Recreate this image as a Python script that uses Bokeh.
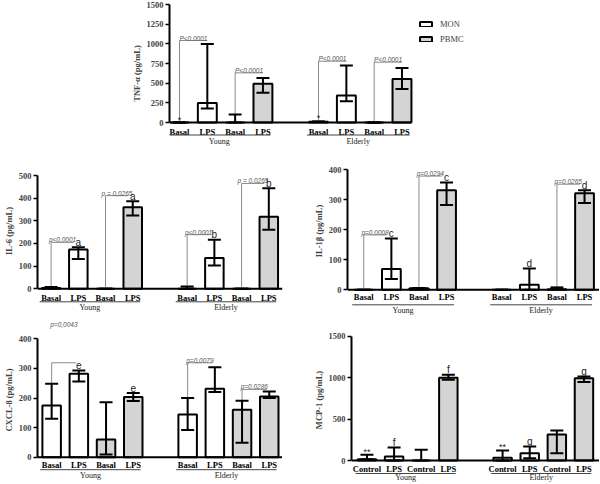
from bokeh.plotting import figure
from bokeh.models import (Range1d, FixedTicker, Whisker, TeeHead, ColumnDataSource,
                          Legend, LegendItem, Spacer)
from bokeh.layouts import column, row
from bokeh.core.properties import value
from bokeh.embed import file_html
from bokeh.resources import INLINE

# ---------------- data ----------------
GROUPS = ["Young", "Elderly"]
CELLS = ["MON", "MON", "PBMC", "PBMC"]
TREAT_BASAL = ["Basal", "LPS", "Basal", "LPS"]
TREAT_CONTROL = ["Control", "LPS", "Control", "LPS"]

# TNF-alpha
tnf_mean = [0, 249, 0, 491, 10, 343, 0, 554]
tnf_low = [0, 178, 0, 377, 10, 271, 0, 427]
tnf_high = [0, 998, 101, 567, 14, 724, 0, 694]
tnf_ticks = [0, 250, 500, 750, 1000, 1250, 1500]
tnf_pvals = [(0, 1, 1042, "P<0.0001", None), (2, 3, 631, "P<0.0001", None),
             (4, 5, 779, "P<0.0001", None), (6, 7, 767, "P<0.0001", None)]
tnf_letters = []
tnf_stars = [(0, "*"), (4, "*")]

# IL-6
il6_mean = [4, 173, 0, 360, 0, 136, 0, 318]
il6_low = [4, 132, 0, 323, 0, 103, 0, 261]
il6_high = [8, 183, 0, 386, 10, 217, 0, 444]
il6_ticks = [0, 100, 200, 300, 400, 500]
il6_pvals = [(0, 1, 205, "p<0,0001", None), (2, 3, 411, "p = 0,0265", None),
             (4, 5, 239, "p<0,0001", None), (6, 7, 465, "p = 0,0265", None)]
il6_letters = [(1, "a"), (3, "a"), (5, "b"), (7, "b")]
il6_stars = []

# IL-1beta
il1b_mean = [0, 69, 5, 332, 0, 17, 2, 322]
il1b_low = [0, 36, 5, 283, 0, 0, 2, 289]
il1b_high = [0, 171, 6, 358, 0, 71, 8, 332]
il1b_ticks = [0, 100, 200, 300, 400]
il1b_pvals = [(0, 1, 183, "p=0,0008", None), (2, 3, 379, "p=0,0294", None),
              (6, 7, 352, "p=0,0265", None)]
il1b_letters = [(1, "c"), (3, "c"), (5, "d"), (7, "d")]
il1b_stars = []

# CXCL-8
cxcl8_mean = [175, 282, 60, 203, 144, 231, 160, 205]
cxcl8_low = [130, 256, 9, 190, 92, 220, 49, 200]
cxcl8_high = [248, 293, 186, 217, 200, 304, 191, 222]
cxcl8_ticks = [0, 100, 200, 300, 400]
cxcl8_pvals = [(0, 1, 319, "p=0,0043", 440), (4, 5, 319, "p=0,0079", None),
               (6, 7, 229, "p=0,0286", None)]
cxcl8_letters = [(1, "e"), (3, "e")]
cxcl8_stars = []

# MCP-1
mcp1_mean = [15, 48, 0, 1000, 32, 88, 314, 994]
mcp1_low = [15, 0, 0, 975, 0, 28, 88, 946]
mcp1_high = [69, 157, 129, 1035, 121, 169, 362, 1014]
mcp1_ticks = [0, 500, 1000, 1500]
mcp1_pvals = []
mcp1_letters = [(1, "f"), (3, "f"), (5, "g"), (7, "g")]
mcp1_stars = [(0, "**"), (4, "**")]

SERIF = value("Liberation Serif")
SANS = value("Liberation Sans")
GRAY_FILL = "#d4d4d4"


def make_panel(ylabel, ticks, treat, mean, low, high, pvals, letters, stars, geom,
               legend_at=None):
    (L, W, R, top, h, bot, x0, ppu, end_pad, lab_dy, ul_dy, grp_dy, gap) = geom
    ymax = ticks[-1]
    k = ymax / h  # data units per pixel
    H = int(round(top + h + bot))
    xs = [5 * g + j for g in range(len(GROUPS)) for j in range(len(treat))]
    cells = CELLS * len(GROUPS)
    labels = treat * len(GROUPS)

    p = figure(width=L + W + R, height=H,
               x_range=Range1d(x0, x0 + W / ppu),
               y_range=Range1d(-bot * k, ymax + top * k),
               x_axis_location=None, toolbar_location=None, output_backend="svg",
               min_border_left=L, min_border_right=R,
               min_border_top=0, min_border_bottom=0)
    p.outline_line_color = None
    p.grid.visible = False

    ax = p.yaxis[0]
    ax.bounds = (0, ymax)
    ax.ticker = FixedTicker(ticks=ticks)
    ax.axis_label = ylabel
    ax.axis_label_text_font = "Liberation Serif"
    ax.axis_label_text_font_style = "bold"
    ax.axis_label_text_font_size = "8.5px"
    ax.axis_label_standoff = 2
    ax.major_label_text_font = "Liberation Serif"
    ax.major_label_text_font_style = "bold"
    ax.major_label_text_font_size = "8.5px"
    ax.major_label_standoff = 2
    ax.major_tick_out = 4
    ax.major_tick_in = 0
    ax.major_tick_line_width = 1.5
    ax.minor_tick_line_color = None
    ax.axis_line_width = 2

    rends = {}
    for cell, fill in (("MON", "white"), ("PBMC", GRAY_FILL)):
        idx = [i for i in range(len(xs)) if cells[i] == cell]
        src = ColumnDataSource(dict(x=[xs[i] for i in idx], top=[mean[i] for i in idx]))
        rends[cell] = p.vbar(x="x", top="top", bottom=0, width=0.68, source=src,
                             fill_color=fill, line_color="black", line_width=2)

    # baseline
    p.segment(x0=[x0], y0=[0], x1=[xs[-1] + end_pad], y1=[0],
              line_color="black", line_width=2)

    # error bars
    wsrc = ColumnDataSource(dict(x=xs, lo=low, hi=high))
    wh = Whisker(base="x", lower="lo", upper="hi", source=wsrc, level="overlay",
                 line_color="black", line_width=2,
                 upper_head=TeeHead(size=13, line_width=2, line_color="black"),
                 lower_head=TeeHead(size=13, line_width=2, line_color="black"))
    p.add_layout(wh)

    # p-value brackets
    if pvals:
        bx0, by0, bx1, by1, tx, ty, tt = [], [], [], [], [], [], []
        for a, b, hgt, txt, txt_y in pvals:
            bx0 += [xs[a], xs[a]]
            by0 += [high[a], hgt]
            bx1 += [xs[a], xs[b] - gap]
            by1 += [hgt, hgt]
            tx.append((xs[a] + xs[b] - gap) / 2)
            ty.append((txt_y if txt_y is not None else hgt) + 2.5 * k)
            tt.append(txt)
        p.segment(x0=bx0, y0=by0, x1=bx1, y1=by1, line_color="#8a8a8a", line_width=1)
        p.text(x=tx, y=ty, text=tt, text_font=SANS, text_font_style="italic",
               text_font_size="6.5px", text_color="#555555", text_align="center",
               text_baseline="alphabetic")

    if letters:
        p.text(x=[xs[i] for i, _ in letters], y=[high[i] + 5 * k for i, _ in letters],
               text=[t for _, t in letters], text_font=SANS, text_font_size="10px",
               text_color="#222222", text_align="center", text_baseline="alphabetic")
    if stars:
        p.text(x=[xs[i] for i, _ in stars], y=[high[i] + 3 * k for i, _ in stars],
               text=[t for _, t in stars], text_font=SANS, text_font_size="9px",
               text_color="#222222", text_align="center", text_baseline="middle")

    # category labels
    p.text(x=xs, y=[-lab_dy * k] * len(xs), text=labels, text_font=SERIF,
           text_font_style="bold", text_font_size="8.5px", text_color="black",
           text_align="center", text_baseline="middle")
    # group underline + group labels
    n = len(treat)
    ux0 = [xs[g * n] - 0.42 for g in range(len(GROUPS))]
    ux1 = [xs[g * n + n - 1] + 0.27 for g in range(len(GROUPS))]
    p.segment(x0=ux0, y0=[-ul_dy * k] * len(GROUPS), x1=ux1, y1=[-ul_dy * k] * len(GROUPS),
              line_color="#444444", line_width=1)
    p.text(x=[(a + b) / 2 for a, b in zip(ux0, ux1)], y=[-grp_dy * k] * len(GROUPS),
           text=GROUPS, text_font=SERIF, text_font_size="8px", text_color="#222222",
           text_align="center", text_baseline="middle")

    if legend_at is not None:
        lg = Legend(items=[LegendItem(label="MON", renderers=[rends["MON"]]),
                           LegendItem(label="PBMC", renderers=[rends["PBMC"]])],
                    location=legend_at, margin=0, padding=0,
                    border_line_color=None, background_fill_alpha=0,
                    glyph_width=15, glyph_height=6, label_height=10, label_standoff=7,
                    spacing=5, label_text_font="Liberation Serif",
                    label_text_font_size="8.5px", label_text_baseline="middle")
        p.add_layout(lg)
    return p


# geometry: L, W, R, top_px, h_plot, bot_px, x0, px_per_unit, end_pad,
#           label_dy, underline_dy, group_dy, bracket_end_gap
tnf = make_panel("TNF-α (pg/mL)", tnf_ticks, TREAT_BASAL, tnf_mean, tnf_low, tnf_high,
                 tnf_pvals, tnf_letters, tnf_stars,
                 (40, 307, 0, 4, 118, 24, -0.36, 27.9, 0.32, 9, 12.5, 18.5, 0.0),
                 legend_at=(249, 102))
il6 = make_panel("IL-6 (pg/mL)", il6_ticks, TREAT_BASAL, il6_mean, il6_low, il6_high,
                 il6_pvals, il6_letters, il6_stars,
                 (29, 253, 28, 29, 113.3, 26.7, -0.5, 28.1, 0.5, 9, 13, 18.5, 0.16))
il1b = make_panel("IL-1β (pg/mL)", il1b_ticks, TREAT_BASAL, il1b_mean, il1b_low, il1b_high,
                  il1b_pvals, il1b_letters, il1b_stars,
                  (31, 258, 0, 23.3, 120, 25.7, -0.59, 28.25, 0.53, 7.5, 15, 21, 0.18))
cxcl8 = make_panel("CXCL-8 (pg/mL)", cxcl8_ticks, TREAT_BASAL, cxcl8_mean, cxcl8_low,
                   cxcl8_high, cxcl8_pvals, cxcl8_letters, cxcl8_stars,
                   (28, 254, 28, 23.3, 118.4, 27.3, -0.52, 28.2, 0.47, 7.5, 12.5, 18.5, 0.1))
mcp1 = make_panel("MCP-1 (pg/mL)", mcp1_ticks, TREAT_CONTROL, mcp1_mean, mcp1_low, mcp1_high,
                  mcp1_pvals, mcp1_letters, mcp1_stars,
                  (33, 256, 0, 20.7, 124.3, 24, -0.57, 28, 0.57, 8, 13, 16.5, 0.0))

layout = column(row(Spacer(width=128, height=146), tnf),
                row(il6, il1b),
                row(cxcl8, mcp1))

open("out.html", "w").write(file_html(layout, INLINE))
